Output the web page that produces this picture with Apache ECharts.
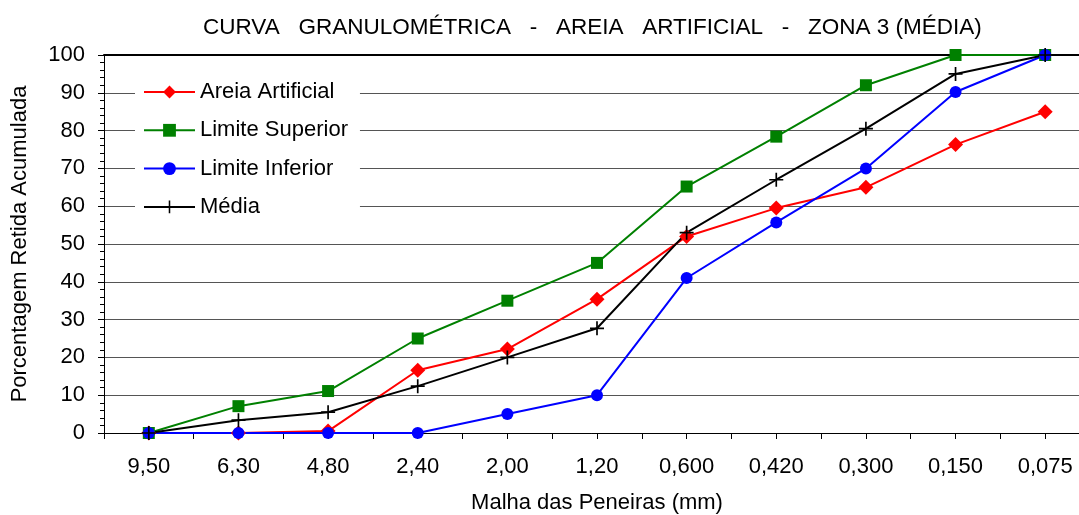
<!DOCTYPE html>
<html>
<head>
<meta charset="utf-8">
<script src="https://cdn.jsdelivr.net/npm/echarts@6/dist/echarts.min.js"></script>
<style>
html,body{margin:0;padding:0;background:#fff;}
#chart{width:1079px;height:515px;}
</style>
</head>
<body>
<div id="chart"></div>
<script>
const categories = ['9,50','6,30','4,80','2,40','2,00','1,20','0,600','0,420','0,300','0,150','0,075'];
const areiaArtificial = [0, 0, 0.5, 16.6, 22.2, 35.4, 52, 59.5, 65, 76.3, 85];
const limiteSuperior  = [0, 7.1, 11.1, 25, 35, 45, 65.2, 78.4, 92, 100, 100];
const limiteInferior  = [0, 0, 0, 0, 5, 10, 41, 55.7, 70, 90.2, 100];
const media           = [0, 3.4, 5.5, 12.4, 20, 27.7, 53, 67, 80.5, 95, 100];
const yTicks = [0, 10, 20, 30, 40, 50, 60, 70, 80, 90, 100];

const FONT = '"Liberation Sans", Arial, sans-serif';
const plusPath = 'path://M4.4,0H5.6V4.4H10V5.6H5.6V10H4.4V5.6H0V4.4H4.4Z';

const chart = echarts.init(document.getElementById('chart'), null, {renderer: 'canvas'});
chart.setOption({
  animation: false,
  backgroundColor: '#fff',
  title: {
    text: 'CURVA   GRANULOMÉTRICA   -   AREIA   ARTIFICIAL   -   ZONA 3 (MÉDIA)',
    left: 198, top: 11,
    textStyle: {fontFamily: FONT, fontSize: 22.5, fontWeight: 'normal', color: '#000'}
  },
  legend: {
    orient: 'vertical', left: 135, top: 72,
    backgroundColor: '#fff',
    padding: [8, 12, 8, 8],
    itemWidth: 51, itemHeight: 16, itemGap: 14.3,
    textStyle: {fontFamily: FONT, fontSize: 22, color: '#000', lineHeight: 24},
    data: ['Areia Artificial', 'Limite Superior', 'Limite Inferior', 'Média']
  },
  grid: {left: 104, width: 986, top: 55, height: 378, containLabel: false, outerBoundsMode: 'none'},
  xAxis: [
    {
      type: 'category', data: categories, boundaryGap: true, position: 'bottom',
      axisLine: {show: true, lineStyle: {color: '#000', width: 1}},
      axisTick: {show: true, alignWithLabel: false, length: 6, lineStyle: {color: '#000'}},
      axisLabel: {fontFamily: FONT, fontSize: 22, color: '#000', margin: 23},
      splitLine: {show: false},
      name: 'Malha das Peneiras (mm)', nameLocation: 'middle', nameGap: 59,
      nameTextStyle: {fontFamily: FONT, fontSize: 22, color: '#000'}
    },
    {
      type: 'category', data: categories, boundaryGap: true, position: 'bottom',
      axisLine: {show: false},
      axisTick: {show: true, alignWithLabel: true, length: 6, lineStyle: {color: '#000'}},
      axisLabel: {show: false}, splitLine: {show: false}
    },
    {
      type: 'category', data: categories, boundaryGap: true, position: 'top',
      axisLine: {show: true, lineStyle: {color: '#000', width: 2}},
      axisTick: {show: false}, axisLabel: {show: false}, splitLine: {show: false}
    }
  ],
  yAxis: {
    type: 'value', min: 0, max: 100, interval: 10,
    axisLine: {show: true, lineStyle: {color: '#000'}},
    axisTick: {show: true, length: 6, lineStyle: {color: '#000'}},
    minorTick: {show: true, splitNumber: 5, length: 4, lineStyle: {color: '#000'}},
    splitLine: {show: true, lineStyle: {color: '#555', width: 1}},
    axisLabel: {fontFamily: FONT, fontSize: 22, color: '#000', margin: 19,
      formatter: v => yTicks.includes(v) ? String(v) : ''},
    name: 'Porcentagem Retida Acumulada', nameLocation: 'middle', nameRotate: 90, nameGap: 73,
    nameTextStyle: {fontFamily: FONT, fontSize: 22, color: '#000'}
  },
  series: [
    {name: 'Areia Artificial', type: 'line', data: areiaArtificial, xAxisIndex: 0,
     symbol: 'diamond', symbolSize: 15, showAllSymbol: true,
     lineStyle: {color: '#ff0000', width: 2}, itemStyle: {color: '#ff0000'}},
    {name: 'Limite Superior', type: 'line', data: limiteSuperior, xAxisIndex: 0,
     symbol: 'rect', symbolSize: 12, showAllSymbol: true,
     lineStyle: {color: '#008000', width: 2}, itemStyle: {color: '#008000'}},
    {name: 'Limite Inferior', type: 'line', data: limiteInferior, xAxisIndex: 0,
     symbol: 'circle', symbolSize: 12, showAllSymbol: true,
     lineStyle: {color: '#0000ff', width: 2}, itemStyle: {color: '#0000ff'}},
    {name: 'Média', type: 'line', data: media, xAxisIndex: 0,
     symbol: plusPath, symbolSize: 14, showAllSymbol: true,
     lineStyle: {color: '#000', width: 2}, itemStyle: {color: '#000'}}
  ]
});
</script>
</body>
</html>
